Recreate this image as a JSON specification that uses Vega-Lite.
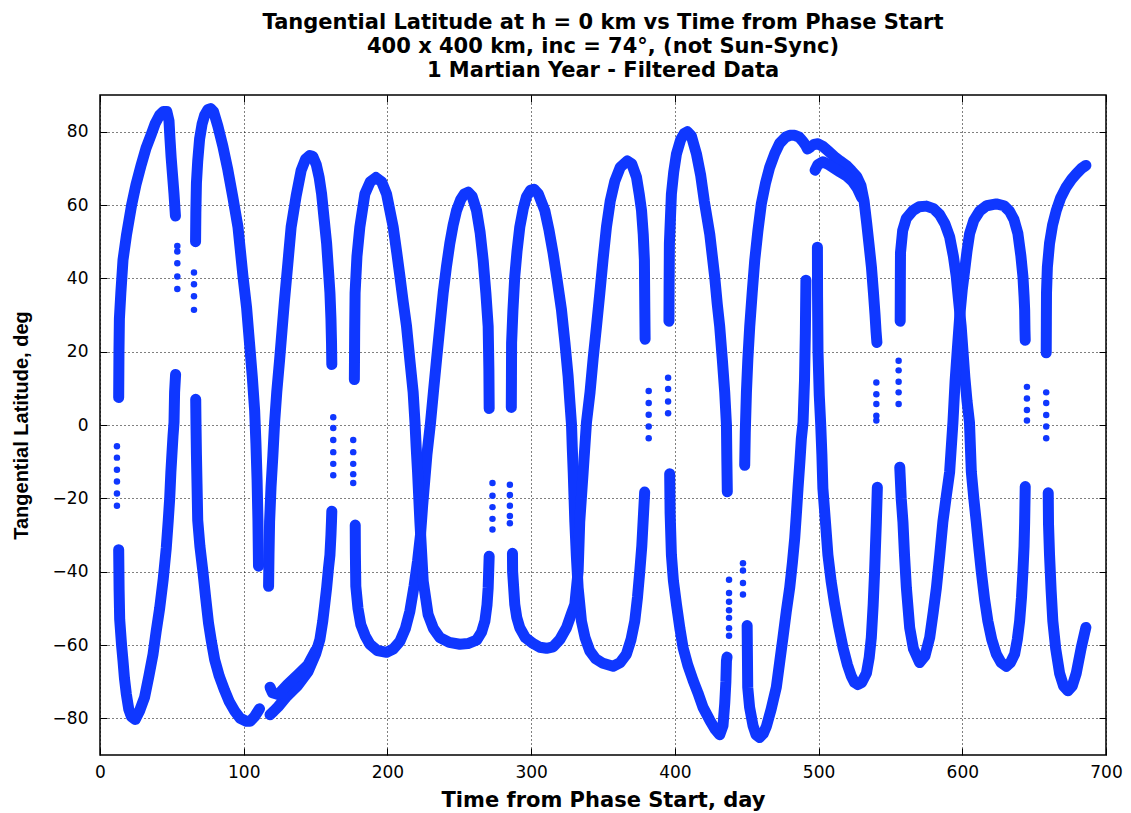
{
  "$schema": "https://vega.github.io/schema/vega-lite/v6.json",
  "width": 1006,
  "height": 660,
  "autosize": "none",
  "padding": {"left": 100, "top": 95, "right": 25, "bottom": 58},
  "background": "white",
  "title": {
    "text": ["Tangential Latitude at h = 0 km vs Time from Phase Start", "400 x 400 km, inc = 74°, (not Sun-Sync)", "1 Martian Year - Filtered Data"],
    "font": "DejaVu Sans",
    "fontSize": 21,
    "fontWeight": "bold",
    "color": "black",
    "lineHeight": 24,
    "anchor": "middle",
    "offset": 14
  },
  "config": {
    "view": {"stroke": "black", "strokeWidth": 1.5},
    "font": "DejaVu Sans"
  },
  "datasets": {
    "curves": [
      {"s":"a","d":13.0,"lat":7.5},{"s":"a","d":13.2,"lat":20},{"s":"a","d":13.5,"lat":29},{"s":"a","d":14.5,"lat":36},{"s":"a","d":16,"lat":45},{"s":"a","d":18.5,"lat":52},{"s":"a","d":22,"lat":60},{"s":"a","d":25,"lat":65.5},{"s":"a","d":28.7,"lat":71},{"s":"a","d":32,"lat":75.5},{"s":"a","d":35.7,"lat":79.3},{"s":"a","d":38.5,"lat":82.3},{"s":"a","d":41.5,"lat":84.5},{"s":"a","d":44,"lat":85.5},{"s":"a","d":46.5,"lat":85.5},{"s":"a","d":48,"lat":83},{"s":"a","d":48.7,"lat":78},{"s":"a","d":49.5,"lat":73},{"s":"a","d":50.5,"lat":68},{"s":"a","d":51.5,"lat":63},{"s":"a","d":52.5,"lat":57},
      {"s":"b","d":66.5,"lat":50},{"s":"b","d":66.7,"lat":58},{"s":"b","d":67.1,"lat":66},{"s":"b","d":68,"lat":72},{"s":"b","d":69.3,"lat":78},{"s":"b","d":71,"lat":82},{"s":"b","d":72.8,"lat":84.5},{"s":"b","d":75,"lat":86},{"s":"b","d":77,"lat":86.3},{"s":"b","d":79,"lat":85.5},{"s":"b","d":82,"lat":81.5},{"s":"b","d":85.5,"lat":76},{"s":"b","d":89,"lat":69.5},{"s":"b","d":92.5,"lat":62},{"s":"b","d":96,"lat":54},{"s":"b","d":99.5,"lat":40.5},{"s":"b","d":102,"lat":32},{"s":"b","d":104,"lat":22.5},{"s":"b","d":106,"lat":13},{"s":"b","d":107.6,"lat":4},{"s":"b","d":108.5,"lat":-5},{"s":"b","d":109.3,"lat":-15},{"s":"b","d":109.9,"lat":-26},{"s":"b","d":110.3,"lat":-38.5},
      {"s":"c","d":66.6,"lat":7},{"s":"c","d":66.8,"lat":0},{"s":"c","d":67.1,"lat":-8},{"s":"c","d":67.5,"lat":-16},{"s":"c","d":68,"lat":-26},{"s":"c","d":69.5,"lat":-33},{"s":"c","d":71.6,"lat":-40},{"s":"c","d":73.5,"lat":-47},{"s":"c","d":75.5,"lat":-54},{"s":"c","d":77.5,"lat":-59},{"s":"c","d":79.8,"lat":-64},{"s":"c","d":83,"lat":-68.5},{"s":"c","d":86.7,"lat":-72.4},{"s":"c","d":90,"lat":-75.5},{"s":"c","d":93.7,"lat":-78},{"s":"c","d":97.5,"lat":-80},{"s":"c","d":101.8,"lat":-80.8},{"s":"c","d":104.5,"lat":-80.8},{"s":"c","d":107.6,"lat":-79.5},{"s":"c","d":110,"lat":-78},{"s":"c","d":111,"lat":-77.4},
      {"s":"d","d":13,"lat":-34},{"s":"d","d":13.3,"lat":-45},{"s":"d","d":13.7,"lat":-53},{"s":"d","d":15,"lat":-60},{"s":"d","d":16,"lat":-64.3},{"s":"d","d":17,"lat":-69},{"s":"d","d":18.3,"lat":-73.3},{"s":"d","d":20,"lat":-77.5},{"s":"d","d":21.8,"lat":-79.5},{"s":"d","d":24.6,"lat":-80.3},{"s":"d","d":27.5,"lat":-78},{"s":"d","d":31,"lat":-74.3},{"s":"d","d":34,"lat":-68.5},{"s":"d","d":36.9,"lat":-62.5},{"s":"d","d":39,"lat":-56.5},{"s":"d","d":41.5,"lat":-50},{"s":"d","d":44,"lat":-42},{"s":"d","d":46.1,"lat":-33.6},{"s":"d","d":47.5,"lat":-26},{"s":"d","d":48.5,"lat":-20},{"s":"d","d":49.3,"lat":-13},{"s":"d","d":50,"lat":-8.3},{"s":"d","d":50.8,"lat":-3},{"s":"d","d":51.5,"lat":0.7},{"s":"d","d":51.9,"lat":8.9},{"s":"d","d":52.6,"lat":13.8},
      {"s":"e","d":117.3,"lat":-44},{"s":"e","d":117.6,"lat":-35},{"s":"e","d":118,"lat":-26.4},{"s":"e","d":119,"lat":-17},{"s":"e","d":120.3,"lat":-8.3},{"s":"e","d":121.5,"lat":0.7},{"s":"e","d":123,"lat":9},{"s":"e","d":125,"lat":17.9},{"s":"e","d":126.7,"lat":26},{"s":"e","d":128.4,"lat":34.1},{"s":"e","d":130.7,"lat":44},{"s":"e","d":133,"lat":54},{"s":"e","d":136.5,"lat":62.5},{"s":"e","d":140,"lat":69.5},{"s":"e","d":143,"lat":72.5},{"s":"e","d":146,"lat":73.5},{"s":"e","d":148,"lat":73.3},{"s":"e","d":150.5,"lat":71},{"s":"e","d":152.5,"lat":67.5},{"s":"e","d":154.2,"lat":63},{"s":"e","d":156,"lat":56},{"s":"e","d":157.7,"lat":49.5},{"s":"e","d":159,"lat":42},{"s":"e","d":160,"lat":36},{"s":"e","d":160.7,"lat":29},{"s":"e","d":161.1,"lat":22.4},{"s":"e","d":161.3,"lat":16.5},
      {"s":"f","d":118.3,"lat":-79},{"s":"f","d":121,"lat":-78},{"s":"f","d":124,"lat":-76.8},{"s":"f","d":130,"lat":-74},{"s":"f","d":137.7,"lat":-71},{"s":"f","d":144.7,"lat":-67.3},{"s":"f","d":150,"lat":-62.5},{"s":"f","d":153,"lat":-58.5},{"s":"f","d":155,"lat":-53.5},{"s":"f","d":156.5,"lat":-48.5},{"s":"f","d":157.7,"lat":-44.4},{"s":"f","d":159,"lat":-39},{"s":"f","d":160,"lat":-35.4},{"s":"f","d":160.7,"lat":-30},{"s":"f","d":161.1,"lat":-26},{"s":"f","d":161.3,"lat":-23.5},
      {"s":"f2","d":118.3,"lat":-71.5},{"s":"f2","d":120,"lat":-73},{"s":"f2","d":124,"lat":-73.5},{"s":"f2","d":130,"lat":-71},{"s":"f2","d":137.7,"lat":-68.1},{"s":"f2","d":144.7,"lat":-65.4},{"s":"f2","d":150,"lat":-61.5},
      {"s":"g","d":177.6,"lat":-27.3},{"s":"g","d":177.7,"lat":-35},{"s":"g","d":178,"lat":-44},{"s":"g","d":179.5,"lat":-50},{"s":"g","d":181.5,"lat":-54.5},{"s":"g","d":184.5,"lat":-57.5},{"s":"g","d":187.8,"lat":-59.8},{"s":"g","d":193,"lat":-61.5},{"s":"g","d":199.4,"lat":-62},{"s":"g","d":204,"lat":-61.1},{"s":"g","d":208.7,"lat":-59},{"s":"g","d":212.5,"lat":-55.5},{"s":"g","d":215.6,"lat":-50.8},{"s":"g","d":218.5,"lat":-44},{"s":"g","d":221,"lat":-37},{"s":"g","d":223,"lat":-30},{"s":"g","d":224.5,"lat":-22},{"s":"g","d":226,"lat":-15},{"s":"g","d":227.5,"lat":-8},{"s":"g","d":230,"lat":0.7},{"s":"g","d":232,"lat":9},{"s":"g","d":234.2,"lat":17.9},{"s":"g","d":236.5,"lat":27},{"s":"g","d":238.8,"lat":36},{"s":"g","d":241,"lat":43},{"s":"g","d":243.4,"lat":49.5},{"s":"g","d":245.7,"lat":54.5},{"s":"g","d":248.1,"lat":58.5},{"s":"g","d":251,"lat":61.5},{"s":"g","d":253.5,"lat":63},{"s":"g","d":256.2,"lat":63.5},{"s":"g","d":259,"lat":62.3},{"s":"g","d":262,"lat":58.5},{"s":"g","d":264.5,"lat":52.5},{"s":"g","d":266.6,"lat":45},{"s":"g","d":268.5,"lat":36},{"s":"g","d":270.1,"lat":26.9},{"s":"g","d":270.6,"lat":15},{"s":"g","d":270.8,"lat":4.5},
      {"s":"h","d":177,"lat":12.4},{"s":"h","d":177.2,"lat":25},{"s":"h","d":177.5,"lat":36},{"s":"h","d":178.8,"lat":46},{"s":"h","d":180.8,"lat":54},{"s":"h","d":184.3,"lat":63},{"s":"h","d":188,"lat":66.3},{"s":"h","d":192,"lat":67.5},{"s":"h","d":196,"lat":66.3},{"s":"h","d":199.4,"lat":63},{"s":"h","d":204,"lat":54},{"s":"h","d":206.5,"lat":47},{"s":"h","d":208.7,"lat":40.5},{"s":"h","d":211,"lat":33.5},{"s":"h","d":213.3,"lat":26.9},{"s":"h","d":215.8,"lat":17},{"s":"h","d":217.9,"lat":8.9},{"s":"h","d":219.2,"lat":0.5},{"s":"h","d":220,"lat":-6},{"s":"h","d":221,"lat":-13},{"s":"h","d":222.6,"lat":-26.4},{"s":"h","d":224.9,"lat":-42.6},{"s":"h","d":228.3,"lat":-51.7},{"s":"h","d":232,"lat":-55.5},{"s":"h","d":236.5,"lat":-58},{"s":"h","d":243,"lat":-59.3},{"s":"h","d":250.4,"lat":-59.8},{"s":"h","d":256,"lat":-59.6},{"s":"h","d":262,"lat":-58.7},{"s":"h","d":265.5,"lat":-56.5},{"s":"h","d":267.8,"lat":-53.5},{"s":"h","d":269.3,"lat":-49},{"s":"h","d":270.1,"lat":-44.4},{"s":"h","d":270.8,"lat":-35.8},
      {"s":"i","d":286.2,"lat":4.8},{"s":"i","d":286.3,"lat":13},{"s":"i","d":286.4,"lat":22.4},{"s":"i","d":287.3,"lat":31},{"s":"i","d":288.6,"lat":40.5},{"s":"i","d":290.2,"lat":47.5},{"s":"i","d":292.1,"lat":54},{"s":"i","d":294.5,"lat":59},{"s":"i","d":296.8,"lat":62.3},{"s":"i","d":299.5,"lat":64},{"s":"i","d":302,"lat":64.3},{"s":"i","d":305,"lat":63},{"s":"i","d":309.5,"lat":58.5},{"s":"i","d":312.5,"lat":53},{"s":"i","d":315.3,"lat":46.8},{"s":"i","d":318.3,"lat":39},{"s":"i","d":321.1,"lat":31.4},{"s":"i","d":323.5,"lat":22.5},{"s":"i","d":325.7,"lat":13.4},{"s":"i","d":327,"lat":6},{"s":"i","d":328.1,"lat":0},{"s":"i","d":328.6,"lat":-6},{"s":"i","d":329.3,"lat":-13},{"s":"i","d":330.4,"lat":-26.4},{"s":"i","d":331.5,"lat":-36},{"s":"i","d":332.7,"lat":-44.4},{"s":"i","d":335,"lat":-53.5},{"s":"i","d":337.5,"lat":-58},{"s":"i","d":340.8,"lat":-61.6},{"s":"i","d":345,"lat":-63.8},{"s":"i","d":350,"lat":-65},{"s":"i","d":357,"lat":-65.8},{"s":"i","d":362,"lat":-64.8},{"s":"i","d":366.3,"lat":-62.5},{"s":"i","d":369.5,"lat":-58.5},{"s":"i","d":372.1,"lat":-53.5},{"s":"i","d":374,"lat":-47},{"s":"i","d":375.6,"lat":-39.9},{"s":"i","d":377,"lat":-33},{"s":"i","d":377.9,"lat":-26.4},{"s":"i","d":379,"lat":-18.3},
      {"s":"j","d":287,"lat":-35},{"s":"j","d":287.1,"lat":-39.9},{"s":"j","d":288.6,"lat":-48.9},{"s":"j","d":290,"lat":-52.5},{"s":"j","d":292.1,"lat":-55.3},{"s":"j","d":296,"lat":-58},{"s":"j","d":301.4,"lat":-59.6},{"s":"j","d":306,"lat":-60.6},{"s":"j","d":310.7,"lat":-60.9},{"s":"j","d":315.3,"lat":-60.5},{"s":"j","d":320,"lat":-58.5},{"s":"j","d":324.6,"lat":-55.3},{"s":"j","d":328,"lat":-51.5},{"s":"j","d":330.4,"lat":-48.9},{"s":"j","d":332.7,"lat":-39.9},{"s":"j","d":333.8,"lat":-26.4},{"s":"j","d":336.2,"lat":-12.8},{"s":"j","d":338.5,"lat":0.7},{"s":"j","d":341,"lat":9},{"s":"j","d":343.1,"lat":17.9},{"s":"j","d":345.5,"lat":27},{"s":"j","d":347.8,"lat":36},{"s":"j","d":350,"lat":45},{"s":"j","d":352.4,"lat":54},{"s":"j","d":355,"lat":61},{"s":"j","d":358.2,"lat":66.5},{"s":"j","d":362,"lat":70.3},{"s":"j","d":366.8,"lat":72},{"s":"j","d":370,"lat":71.2},{"s":"j","d":373.3,"lat":67.6},{"s":"j","d":375.2,"lat":63},{"s":"j","d":376.8,"lat":58.5},{"s":"j","d":378,"lat":52},{"s":"j","d":378.8,"lat":45},{"s":"j","d":379.1,"lat":31.4},{"s":"j","d":379.3,"lat":23.4},
      {"s":"k","d":395.9,"lat":28.3},{"s":"k","d":396,"lat":38},{"s":"k","d":396.2,"lat":49.5},{"s":"k","d":397.6,"lat":63},{"s":"k","d":399.2,"lat":69},{"s":"k","d":401.1,"lat":73.9},{"s":"k","d":404,"lat":77.8},{"s":"k","d":406.5,"lat":79.5},{"s":"k","d":408.7,"lat":80},{"s":"k","d":411.5,"lat":78.8},{"s":"k","d":415,"lat":74},{"s":"k","d":418,"lat":68},{"s":"k","d":420.5,"lat":61},{"s":"k","d":424.3,"lat":52},{"s":"k","d":427.7,"lat":40.5},{"s":"k","d":429.5,"lat":33},{"s":"k","d":431.2,"lat":26.9},{"s":"k","d":433,"lat":18},{"s":"k","d":434.7,"lat":8.9},{"s":"k","d":435.9,"lat":0},{"s":"k","d":436.2,"lat":-10},{"s":"k","d":436.5,"lat":-18.2},
      {"s":"l","d":396.4,"lat":-13.3},{"s":"l","d":396.7,"lat":-24},{"s":"l","d":397.6,"lat":-35.4},{"s":"l","d":399,"lat":-42.5},{"s":"l","d":401.1,"lat":-48.9},{"s":"l","d":403.5,"lat":-55.5},{"s":"l","d":405.7,"lat":-60.7},{"s":"l","d":409,"lat":-65.5},{"s":"l","d":412.7,"lat":-69.7},{"s":"l","d":416,"lat":-73},{"s":"l","d":419.6,"lat":-77},{"s":"l","d":424.3,"lat":-80.5},{"s":"l","d":428,"lat":-83},{"s":"l","d":431.2,"lat":-84.5},{"s":"l","d":433.5,"lat":-82},{"s":"l","d":434.7,"lat":-76},{"s":"l","d":435.5,"lat":-70},{"s":"l","d":435.9,"lat":-64.3},{"s":"l","d":436.3,"lat":-63.3},
      {"s":"m","d":450.3,"lat":-54.7},{"s":"m","d":450.5,"lat":-63},{"s":"m","d":450.7,"lat":-71.5},{"s":"m","d":452,"lat":-77},{"s":"m","d":454.4,"lat":-82},{"s":"m","d":456.5,"lat":-84.5},{"s":"m","d":459,"lat":-85.2},{"s":"m","d":461.5,"lat":-84.2},{"s":"m","d":463.7,"lat":-82.2},{"s":"m","d":467,"lat":-77.5},{"s":"m","d":470.6,"lat":-71.5},{"s":"m","d":473,"lat":-64.5},{"s":"m","d":475.2,"lat":-58},{"s":"m","d":477.5,"lat":-51},{"s":"m","d":479.9,"lat":-44.4},{"s":"m","d":481.8,"lat":-37.5},{"s":"m","d":483.4,"lat":-30.9},{"s":"m","d":484.6,"lat":-24},{"s":"m","d":485.7,"lat":-17.3},{"s":"m","d":487,"lat":-10},{"s":"m","d":488,"lat":-3.8},{"s":"m","d":489.2,"lat":0.7},{"s":"m","d":490.2,"lat":12},{"s":"m","d":490.8,"lat":25},{"s":"m","d":491.2,"lat":39.5},
      {"s":"n","d":499.2,"lat":48.5},{"s":"n","d":499.3,"lat":35},{"s":"n","d":499.6,"lat":20},{"s":"n","d":500.5,"lat":8},{"s":"n","d":501.5,"lat":0},{"s":"n","d":502.3,"lat":-8},{"s":"n","d":503,"lat":-17.3},{"s":"n","d":504.8,"lat":-26.5},{"s":"n","d":506.5,"lat":-35.4},{"s":"n","d":508.7,"lat":-42.5},{"s":"n","d":511.2,"lat":-48.9},{"s":"n","d":514,"lat":-55},{"s":"n","d":517,"lat":-60.7},{"s":"n","d":520,"lat":-65.3},{"s":"n","d":522.8,"lat":-68.5},{"s":"n","d":525,"lat":-70.2},{"s":"n","d":527.4,"lat":-70.8},{"s":"n","d":530,"lat":-70.2},{"s":"n","d":533.3,"lat":-67.7},{"s":"n","d":535.2,"lat":-63.5},{"s":"n","d":536.7,"lat":-58},{"s":"n","d":538,"lat":-49},{"s":"n","d":539,"lat":-39.9},{"s":"n","d":540.2,"lat":-26.4},{"s":"n","d":540.9,"lat":-17},
      {"s":"o","d":448.6,"lat":-11},{"s":"o","d":449,"lat":-2},{"s":"o","d":449.8,"lat":8.9},{"s":"o","d":450.8,"lat":18},{"s":"o","d":452.1,"lat":26.9},{"s":"o","d":453.8,"lat":36},{"s":"o","d":455.6,"lat":45},{"s":"o","d":457.8,"lat":53},{"s":"o","d":460.2,"lat":60.4},{"s":"o","d":463,"lat":65.8},{"s":"o","d":466,"lat":70.3},{"s":"o","d":469.5,"lat":74},{"s":"o","d":472.9,"lat":76.8},{"s":"o","d":477,"lat":78.5},{"s":"o","d":480,"lat":79},{"s":"o","d":483.4,"lat":79},{"s":"o","d":486.5,"lat":78.5},{"s":"o","d":489.2,"lat":77.3},{"s":"o","d":491,"lat":76.3},{"s":"o","d":492.3,"lat":75.3},{"s":"o","d":494.2,"lat":75.8},
      {"s":"o2","d":496.8,"lat":76.5},{"s":"o2","d":499.6,"lat":76.7},{"s":"o2","d":503,"lat":76},{"s":"o2","d":507,"lat":74.6},{"s":"o2","d":511,"lat":73.2},{"s":"o2","d":515,"lat":72},{"s":"o2","d":519.3,"lat":70.8},{"s":"o2","d":523,"lat":69.3},{"s":"o2","d":526.5,"lat":67.8},{"s":"o2","d":529.5,"lat":65.3},{"s":"o2","d":531.7,"lat":61},{"s":"o2","d":533.5,"lat":55},{"s":"o2","d":535.3,"lat":48.5},{"s":"o2","d":536.8,"lat":43},{"s":"o2","d":538.2,"lat":36},{"s":"o2","d":539.3,"lat":30},{"s":"o2","d":540,"lat":25.5},{"s":"o2","d":540.6,"lat":22.5},
      {"s":"o3","d":497.6,"lat":69.5},{"s":"o3","d":499.5,"lat":71},{"s":"o3","d":503,"lat":71.8},{"s":"o3","d":507,"lat":71},{"s":"o3","d":511,"lat":70},{"s":"o3","d":515,"lat":69},{"s":"o3","d":519.3,"lat":68},{"s":"o3","d":523.5,"lat":66.5},{"s":"o3","d":527,"lat":64.5},{"s":"o3","d":530,"lat":62},
      {"s":"p","d":556.8,"lat":28.3},{"s":"p","d":556.9,"lat":40},{"s":"p","d":557,"lat":47},{"s":"p","d":558.5,"lat":53},{"s":"p","d":561,"lat":56.3},{"s":"p","d":565.7,"lat":58.5},{"s":"p","d":570,"lat":59.5},{"s":"p","d":575,"lat":59.7},{"s":"p","d":580,"lat":59},{"s":"p","d":584.2,"lat":57.4},{"s":"p","d":588,"lat":54.8},{"s":"p","d":591.2,"lat":51.3},{"s":"p","d":593.8,"lat":46},{"s":"p","d":595.8,"lat":40.5},{"s":"p","d":597.4,"lat":34},{"s":"p","d":599.2,"lat":27},{"s":"p","d":600.5,"lat":20},{"s":"p","d":601.8,"lat":13},{"s":"p","d":603.3,"lat":6.5},{"s":"p","d":605,"lat":0.7},{"s":"p","d":606.3,"lat":-12.8},{"s":"p","d":608,"lat":-20},{"s":"p","d":609.7,"lat":-26.4},{"s":"p","d":611.5,"lat":-33.5},{"s":"p","d":613.2,"lat":-39.9},{"s":"p","d":615.5,"lat":-47.5},{"s":"p","d":617.8,"lat":-53.5},{"s":"p","d":620.5,"lat":-58.5},{"s":"p","d":623.7,"lat":-62.5},{"s":"p","d":627,"lat":-64.8},{"s":"p","d":630.6,"lat":-65.8},{"s":"p","d":633.5,"lat":-64.8},{"s":"p","d":636.4,"lat":-62.5},{"s":"p","d":638.3,"lat":-58.5},{"s":"p","d":639.9,"lat":-53.5},{"s":"p","d":641.2,"lat":-47},{"s":"p","d":642.2,"lat":-39.9},{"s":"p","d":643,"lat":-33},{"s":"p","d":643.4,"lat":-26.4},{"s":"p","d":643.8,"lat":-16.8},
      {"s":"q","d":556.5,"lat":-11.5},{"s":"q","d":557.5,"lat":-20},{"s":"q","d":558.7,"lat":-26.4},{"s":"q","d":559.8,"lat":-35.5},{"s":"q","d":561.1,"lat":-44.4},{"s":"q","d":563.4,"lat":-55.3},{"s":"q","d":566,"lat":-61},{"s":"q","d":570.3,"lat":-64.8},{"s":"q","d":574,"lat":-63},{"s":"q","d":577.3,"lat":-58},{"s":"q","d":579.8,"lat":-51},{"s":"q","d":582,"lat":-44.4},{"s":"q","d":584.3,"lat":-35.5},{"s":"q","d":586.5,"lat":-26.4},{"s":"q","d":589,"lat":-19},{"s":"q","d":591.2,"lat":-12.8},{"s":"q","d":593.5,"lat":0.7},{"s":"q","d":595,"lat":12},{"s":"q","d":596.8,"lat":22},{"s":"q","d":598.3,"lat":30},{"s":"q","d":600,"lat":37},{"s":"q","d":601.6,"lat":42},{"s":"q","d":603.3,"lat":47.5},{"s":"q","d":605.1,"lat":52.2},{"s":"q","d":608,"lat":55.8},{"s":"q","d":612,"lat":58.3},{"s":"q","d":617,"lat":59.8},{"s":"q","d":623.7,"lat":60.3},{"s":"q","d":629,"lat":59.8},{"s":"q","d":632.9,"lat":58.3},{"s":"q","d":636,"lat":56},{"s":"q","d":638.7,"lat":52.2},{"s":"q","d":640.8,"lat":46},{"s":"q","d":642.2,"lat":40.5},{"s":"q","d":643,"lat":35},{"s":"q","d":643.4,"lat":31.4},{"s":"q","d":643.6,"lat":26},{"s":"q","d":643.8,"lat":23.1},
      {"s":"r","d":658.4,"lat":19.7},{"s":"r","d":658.5,"lat":28},{"s":"r","d":658.6,"lat":36},{"s":"r","d":659.2,"lat":43},{"s":"r","d":660.7,"lat":49.5},{"s":"r","d":662.8,"lat":54.5},{"s":"r","d":665.4,"lat":58.5},{"s":"r","d":668.5,"lat":62},{"s":"r","d":672.3,"lat":64.9},{"s":"r","d":676,"lat":67},{"s":"r","d":679.3,"lat":68.5},{"s":"r","d":683,"lat":70},{"s":"r","d":686,"lat":70.8},
      {"s":"s","d":659.8,"lat":-18.5},{"s":"s","d":660,"lat":-27},{"s":"s","d":660.7,"lat":-35.4},{"s":"s","d":661.8,"lat":-45},{"s":"s","d":663,"lat":-53.5},{"s":"s","d":665,"lat":-61},{"s":"s","d":667.7,"lat":-67.7},{"s":"s","d":670.5,"lat":-71.2},{"s":"s","d":673.5,"lat":-72.5},{"s":"s","d":676.5,"lat":-71.2},{"s":"s","d":679.3,"lat":-67.7},{"s":"s","d":682.8,"lat":-60.7},{"s":"s","d":686,"lat":-55.2}
    ],
    "dots": [
      {"d":11.8,"lat":-5.8},{"d":11.8,"lat":-8.9},{"d":11.8,"lat":-12.2},{"d":11.8,"lat":-15.4},{"d":11.8,"lat":-18.7},{"d":11.8,"lat":-22},
      {"d":53.8,"lat":48.8},{"d":53.8,"lat":47.3},{"d":53.8,"lat":44.1},{"d":53.8,"lat":40.5},{"d":53.8,"lat":37.1},
      {"d":65.4,"lat":41.6},{"d":65.4,"lat":38.4},{"d":65.4,"lat":35.1},{"d":65.4,"lat":31.4},
      {"d":162.3,"lat":2.1},{"d":162.3,"lat":-0.8},{"d":162.3,"lat":-4.1},{"d":162.3,"lat":-7.4},{"d":162.3,"lat":-10.6},{"d":162.3,"lat":-13.7},
      {"d":176.2,"lat":-4.1},{"d":176.2,"lat":-7.4},{"d":176.2,"lat":-10.6},{"d":176.2,"lat":-13.4},{"d":176.2,"lat":-15.8},
      {"d":273.1,"lat":-15.8},{"d":273.1,"lat":-19.3},{"d":273.1,"lat":-22.4},{"d":273.1,"lat":-25.6},{"d":273.1,"lat":-28.5},
      {"d":285.2,"lat":-16.3},{"d":285.2,"lat":-19.1},{"d":285.2,"lat":-22},{"d":285.2,"lat":-24.8},{"d":285.2,"lat":-26.8},
      {"d":381.8,"lat":9.3},{"d":381.8,"lat":6.0},{"d":381.8,"lat":2.8},{"d":381.8,"lat":-0.4},{"d":381.8,"lat":-3.6},
      {"d":395.3,"lat":12.9},{"d":395.3,"lat":9.8},{"d":395.3,"lat":6.4},{"d":395.3,"lat":3.2},
      {"d":437.7,"lat":-42.2},{"d":437.7,"lat":-45.8},{"d":437.7,"lat":-48.2},{"d":437.7,"lat":-50.5},{"d":437.7,"lat":-52.6},{"d":437.7,"lat":-55.4},{"d":437.7,"lat":-57.5},
      {"d":447.4,"lat":-37.7},{"d":447.4,"lat":-39.7},{"d":447.4,"lat":-43.1},{"d":447.4,"lat":-46.2},
      {"d":540.2,"lat":11.6},{"d":540.2,"lat":8.4},{"d":540.2,"lat":5.7},{"d":540.2,"lat":2.5},{"d":540.2,"lat":1.2},
      {"d":555.7,"lat":17.5},{"d":555.7,"lat":14.9},{"d":555.7,"lat":11.8},{"d":555.7,"lat":8.9},{"d":555.7,"lat":5.7},
      {"d":645,"lat":10.4},{"d":645,"lat":7.2},{"d":645,"lat":4.1},{"d":645,"lat":1.2},
      {"d":658.4,"lat":8.9},{"d":658.4,"lat":6.0},{"d":658.4,"lat":2.7},{"d":658.4,"lat":-0.4},{"d":658.4,"lat":-3.6}
    ]
  },
  "layer": [
    {
      "data": {"name": "curves"},
      "mark": {"type": "line", "color": "#0f37ff", "strokeWidth": 11, "strokeCap": "round", "strokeJoin": "round"},
      "encoding": {
        "x": {
          "field": "d",
          "type": "quantitative",
          "scale": {"domain": [0, 700], "nice": false, "zero": false},
          "axis": {
            "orient": "bottom",
            "values": [0, 100, 200, 300, 400, 500, 600, 700],
            "title": "Time from Phase Start, day",
            "titleFont": "DejaVu Sans",
            "titleFontSize": 21,
            "titleFontWeight": "bold",
            "titleColor": "black",
            "titlePadding": 9,
            "labelFont": "DejaVu Sans",
            "labelFontSize": 17,
            "labelColor": "black",
            "labelPadding": 16,
            "labelFlush": false,
            "labelOverlap": false,
            "tickSize": -7,
            "tickColor": "black",
            "domain": false,
            "grid": true,
            "gridColor": "black",
            "gridDash": [1, 3],
            "gridOpacity": 1
          }
        },
        "y": {
          "field": "lat",
          "type": "quantitative",
          "scale": {"domain": [-90, 90], "nice": false, "zero": false},
          "axis": {
            "orient": "left",
            "values": [-80, -60, -40, -20, 0, 20, 40, 60, 80],
            "title": "Tangential Latitude, deg",
            "titleFont": "Liberation Sans",
            "titleFontSize": 20,
            "titleFontWeight": "bold",
            "titleColor": "black",
            "titlePadding": 21,
            "labelFont": "DejaVu Sans",
            "labelFontSize": 17,
            "labelColor": "black",
            "labelPadding": 19,
            "labelFlush": false,
            "labelOverlap": false,
            "tickSize": -7,
            "tickColor": "black",
            "domain": false,
            "grid": true,
            "gridColor": "black",
            "gridDash": [1, 3],
            "gridOpacity": 1
          }
        },
        "detail": {"field": "s", "type": "nominal"}
      }
    },
    {
      "data": {"name": "dots"},
      "mark": {"type": "circle", "color": "#0f37ff", "size": 42, "opacity": 1},
      "encoding": {
        "x": {
          "field": "d",
          "type": "quantitative",
          "axis": {"orient": "top", "values": [0, 100, 200, 300, 400, 500, 600, 700], "labels": false, "title": null, "grid": false, "domain": false, "tickSize": -7, "tickColor": "black"}
        },
        "y": {
          "field": "lat",
          "type": "quantitative",
          "axis": {"orient": "right", "values": [-80, -60, -40, -20, 0, 20, 40, 60, 80], "labels": false, "title": null, "grid": false, "domain": false, "tickSize": -7, "tickColor": "black"}
        }
      }
    }
  ],
  "resolve": {"axis": {"x": "independent", "y": "independent"}}
}
